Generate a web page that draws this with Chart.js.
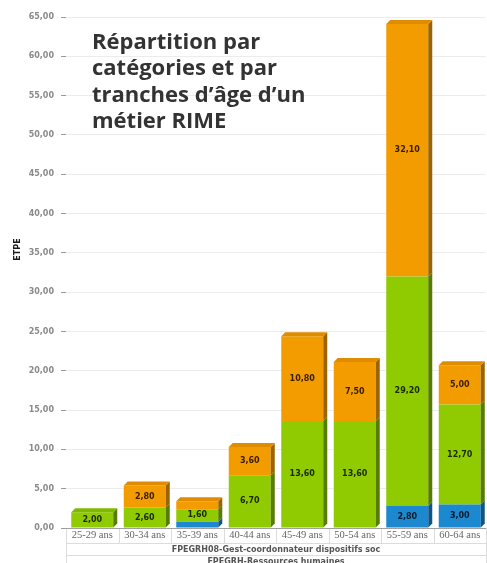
<!DOCTYPE html>
<html>
<head>
<meta charset="utf-8">
<script src="https://cdn.jsdelivr.net/npm/chart.js@4"></script>
<style>
  body { margin: 0; background: #fff; }
  #wrap { position: relative; width: 487px; height: 563px; overflow: hidden; }
  #titre {
    position: absolute; left: 92px; top: 27px;
    font: bold 22px "Open Sans", sans-serif; line-height: 26.4px; color: #333;
    white-space: nowrap;
  }
</style>
</head>
<body>
<div id="wrap">
  <canvas id="chart" width="487" height="563"></canvas>
  <div id="titre">Répartition par<br>catégories et par<br>tranches d’âge d’un<br>métier RIME</div>
</div>
<script>
// Données (ETPE par tranche d'âge)
const categories = ['25-29 ans', '30-34 ans', '35-39 ans', '40-44 ans', '45-49 ans', '50-54 ans', '55-59 ans', '60-64 ans'];
const valeursBleu = [0, 0, 0.8, 0, 0, 0, 2.8, 3.0];
const valeursVert = [2.0, 2.6, 1.6, 6.7, 13.6, 13.6, 29.2, 12.7];
const valeursOrange = [0, 2.8, 1.0, 3.6, 10.8, 7.5, 32.1, 5.0];
const groupeNiveau1 = 'FPEGRH08-Gest-coordonnateur dispositifs soc';
const groupeNiveau2 = 'FPEGRH-Ressources humaines';
const titreAxeY = 'ETPE';
const yMax = 65;
const yPas = 5;

// couleurs : face avant, côté, dessus
const couleurs = [
  { face: '#1b88cf', cote: '#0e5688', dessus: '#1778b8', texte: '#0a1a2a' },
  { face: '#8fcb00', cote: '#557d00', dessus: '#80b800', texte: '#1c2a00' },
  { face: '#f29c00', cote: '#9c6400', dessus: '#e08c00', texte: '#3a1e00' }
];

function formatFr(v) {
  return v.toFixed(2).replace('.', ',');
}

// Petit effet 3D + étiquettes de valeurs
const effet3D = {
  id: 'effet3D',
  afterDatasetsDraw(chart) {
    const ctx = chart.ctx;
    const d = 4;
    const nb = chart.data.labels.length;
    ctx.save();
    for (let i = 0; i < nb; i++) {
      // segment le plus haut de la pile
      let haut = -1;
      chart.data.datasets.forEach((ds, k) => { if (ds.data[i] > 0) haut = k; });
      chart.data.datasets.forEach((ds, k) => {
        if (!(ds.data[i] > 0)) return;
        const el = chart.getDatasetMeta(k).data[i];
        const p = el.getProps(['x', 'y', 'base', 'width'], true);
        const gauche = p.x - p.width / 2, droite = p.x + p.width / 2;
        const top = Math.min(p.y, p.base), bas = Math.max(p.y, p.base);
        ctx.fillStyle = couleurs[k].cote;
        ctx.beginPath();
        ctx.moveTo(droite, top);
        ctx.lineTo(droite + d, top - d);
        ctx.lineTo(droite + d, bas - d);
        ctx.lineTo(droite, bas);
        ctx.closePath();
        ctx.fill();
        if (k === haut) {
          ctx.fillStyle = couleurs[k].dessus;
          ctx.beginPath();
          ctx.moveTo(gauche, top);
          ctx.lineTo(gauche + d, top - d);
          ctx.lineTo(droite + d, top - d);
          ctx.lineTo(droite, top);
          ctx.closePath();
          ctx.fill();
        }
        // étiquette
        if (ds.data[i] >= 1.5) {
          ctx.fillStyle = couleurs[k].texte;
          ctx.font = 'bold 8px "DejaVu Sans"';
          ctx.textAlign = 'center';
          ctx.textBaseline = 'middle';
          ctx.fillText(formatFr(ds.data[i]), p.x, (top + bas) / 2);
        }
      });
    }
    ctx.restore();
  }
};

// Cases des libellés de l'axe des catégories (3 niveaux) + titre de l'axe Y
const axeGroupes = {
  id: 'axeGroupes',
  afterDraw(chart) {
    const ctx = chart.ctx;
    const x = chart.scales.x;
    const y0 = chart.chartArea.bottom;
    const r1 = y0 + 15, r2 = r1 + 12, r3 = r2 + 12;
    ctx.save();
    ctx.strokeStyle = '#dcdcdc';
    ctx.lineWidth = 1;
    ctx.beginPath();
    for (let i = 0; i <= categories.length; i++) {
      const px = Math.round(x.left + i * (x.width / categories.length)) + 0.5;
      ctx.moveTo(px, y0);
      ctx.lineTo(px, i === 0 || i === categories.length ? r3 : r1);
    }
    [r1, r2, r3].forEach(ry => {
      ctx.moveTo(x.left, ry + 0.5);
      ctx.lineTo(x.right, ry + 0.5);
    });
    ctx.stroke();
    ctx.fillStyle = '#555';
    ctx.font = 'bold 8px "DejaVu Sans"';
    ctx.textAlign = 'center';
    ctx.textBaseline = 'middle';
    const cx = (x.left + x.right) / 2;
    ctx.fillText(groupeNiveau1, cx, r1 + 6.5);
    ctx.fillText(groupeNiveau2, cx, r2 + 6.5);
    // ligne de l'axe
    ctx.strokeStyle = '#a0a0a0';
    ctx.beginPath();
    ctx.moveTo(x.left, y0 + 0.5);
    ctx.lineTo(x.right, y0 + 0.5);
    ctx.stroke();
    // titre de l'axe Y
    const ca = chart.chartArea;
    ctx.translate(18, ca.top + (ca.bottom - ca.top) * 0.455);
    ctx.rotate(-Math.PI / 2);
    ctx.fillStyle = '#1a1a1a';
    ctx.font = 'bold 8px "DejaVu Sans"';
    ctx.fillText(titreAxeY, 0, 0);
    ctx.restore();
  }
};

const jeux = [valeursBleu, valeursVert, valeursOrange].map((vals, k) => ({
  label: 'serie' + k,
  data: vals,
  backgroundColor: couleurs[k].face,
  borderWidth: 0,
  barPercentage: 0.8,
  categoryPercentage: 1.0
}));

new Chart(document.getElementById('chart'), {
  type: 'bar',
  data: { labels: categories, datasets: jeux },
  options: {
    responsive: false,
    animation: false,
    layout: { padding: { top: 17, right: 1, left: 0, bottom: 0 } },
    plugins: { legend: { display: false }, tooltip: { enabled: false } },
    scales: {
      x: {
        stacked: true,
        afterFit(scale) { scale.height = 35; },
        grid: { display: false, drawTicks: false },
        border: { display: false },
        ticks: {
          color: '#666',
          font: { family: '"Liberation Serif"', size: 10.5 },
          padding: 1,
          maxRotation: 0
        }
      },
      y: {
        stacked: true,
        min: 0,
        max: yMax,
        afterFit(scale) { scale.width = 66; },
        border: { display: false },
        grid: { color: '#ececec', tickColor: '#9a9a9a', tickLength: 5 },
        ticks: {
          stepSize: yPas,
          color: '#8a8a8a',
          font: { family: '"DejaVu Sans"', size: 8, weight: 'bold' },
          padding: 7,
          callback: v => formatFr(v)
        }
      }
    }
  },
  plugins: [effet3D, axeGroupes]
});
</script>
</body>
</html>
